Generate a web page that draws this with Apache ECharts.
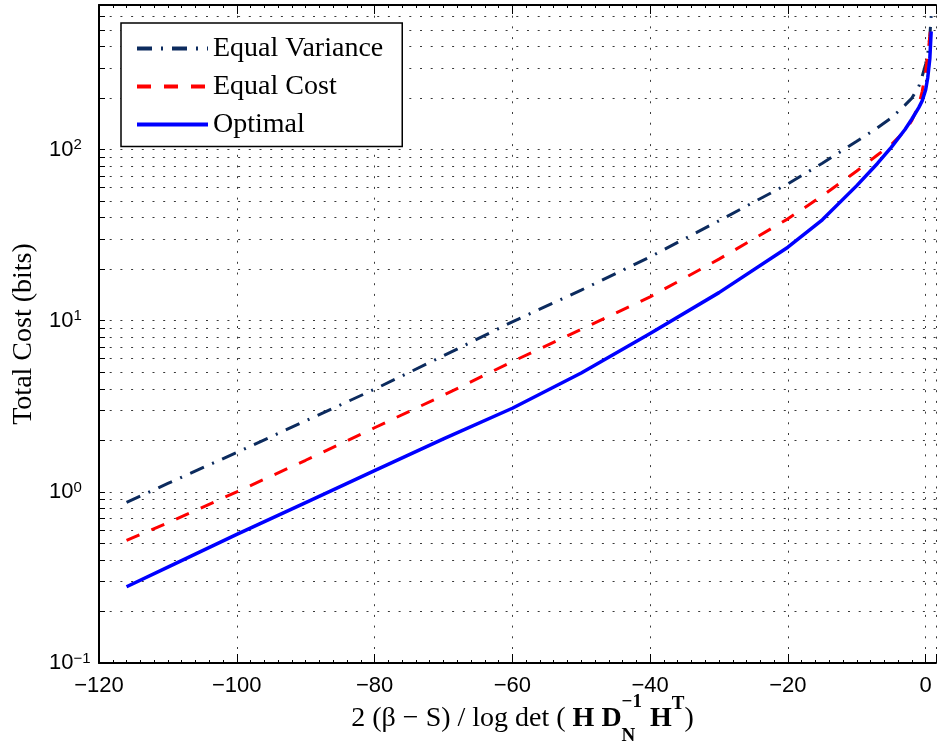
<!DOCTYPE html>
<html><head><meta charset="utf-8">
<script src="https://cdn.jsdelivr.net/npm/echarts@6/dist/echarts.min.js"></script>
<style>html,body{margin:0;padding:0;background:#fff}#c{width:939px;height:749px}</style>
</head><body><div id="c"></div>
<script>
// ---- data ----
const xValues       = [-116, -110, -100, -90, -80, -70, -60, -50, -40, -30, -20, -15, -10, -7, -5, -3, -2, -1, -0.5, 0, 0.3, 0.6, 0.8];
const equalVariance = [0.867, 1.12, 1.70, 2.60, 3.98, 6.24, 9.86, 15.1, 23.6, 38.4, 63.1, 83.2, 112, 134, 153, 182, 200, 234, 269, 316, 363, 457, 603];
const equalCost     = [0.52, 0.66, 1.0, 1.53, 2.37, 3.67, 5.77, 8.9, 13.8, 22.9, 39.4, 53.7, 75, 93, 107, 129, 148, 182, 219, 288, 355, 457, 550];
const optimal       = [0.279, 0.363, 0.564, 0.865, 1.33, 2.04, 3.08, 4.95, 8.43, 14.6, 26.9, 38.9, 61.6, 83, 103, 131, 151, 176, 193, 224, 263, 339, 490];
const seriesNames   = ['Equal Variance', 'Equal Cost', 'Optimal'];
const xTickValues   = [-120, -100, -80, -60, -40, -20, 0];
const yMajorTicks   = [0.1, 1, 10, 100];
const yMinorTicks   = [0.2,0.3,0.4,0.5,0.6,0.7,0.8,0.9, 2,3,4,5,6,7,8,9, 20,30,40,50,60,70,80,90, 200,300,400,500,600,700];

const xMin = -120, xMax = 1.5, xInterval = 20;
const yMin = 0.1, yMax = 700;

const serif = '"Liberation Serif","Times New Roman",serif';
const sans = '"Liberation Sans",Arial,sans-serif';

function pair(ys){ return xValues.map((x,i)=>[x, ys[i]]); }
const allYTicks = yMajorTicks.concat(yMinorTicks).sort((a,b)=>a-b);

const dotted = {type:[2, 8.7], color:'#3a3a3a', width:1};

const chart = echarts.init(document.getElementById('c'), null, {renderer:'canvas'});

// x-axis title pieces (stacked sub/superscript)
const cv = document.createElement('canvas').getContext('2d');
function mw(t, f){ cv.font = f; return cv.measureText(t).width; }
const fN = '28px ' + serif, fB = 'bold 28px ' + serif, fS = 'bold 19px ' + serif;
const baseY = 733;
const pieces = [
  {t:'2 (β − S) / log det ( ', f:fN, dy:0},
  {t:'H', f:fB, dy:0},
  {t:' ', f:fN, dy:0},
  {t:'D', f:fB, dy:0},
  {stack:[{t:'−1', f:fS, dy:-21},{t:'N', f:fS, dy:13}]},
  {t:' ', f:fN, dy:0},
  {t:'H', f:fB, dy:0},
  {t:'T', f:fS, dy:-19},
  {t:')', f:fN, dy:0}
];
let total = 0;
pieces.forEach(p=>{
  if (p.stack) p.w = Math.max(...p.stack.map(s=>mw(s.t,s.f))) + 1;
  else p.w = mw(p.t, p.f);
  total += p.w;
});
let cx = 522.5 - total/2;
const titleEls = [];
pieces.forEach(p=>{
  const parts = p.stack ? p.stack : [p];
  parts.forEach(s=>{
    titleEls.push({type:'text', x:cx, y:baseY + s.dy, silent:true,
      style:{text:s.t, font:s.f, fill:'#000', align:'left', verticalAlign:'bottom', textAlign:'left', textVerticalAlign:'bottom'}});
  });
  cx += p.w;
});

function fmtY(v){
  const e = Math.round(Math.log10(v));
  return '{b|10}{s|' + String(e).replace('-', '\u2212') + '}';
}

const option = {
  backgroundColor:'#fff',
  animation:false,
  grid:{left:99, right:-2, top:5, bottom:86},
  legend:{
    orient:'vertical', left:121, top:23,
    data:seriesNames,
    backgroundColor:'#fff', borderColor:'#000', borderWidth:1.5, borderRadius:0,
    padding:[11.5,19,8,14], itemGap:10, itemWidth:71, itemHeight:14,
    itemStyle:{color:'rgba(0,0,0,0)', borderColor:'rgba(0,0,0,0)', borderWidth:0, opacity:0},
    lineStyle:{width:4},
    textStyle:{fontFamily:serif, fontSize:28, color:'#000'}
  },
  xAxis:[{
    type:'value', min:xMin, max:xMax, interval:xInterval, position:'bottom',
    axisLine:{show:true, onZero:false, lineStyle:{color:'#000', width:2}},
    axisTick:{show:true, inside:true, length:9, lineStyle:{color:'#000', width:1}},
    minorTick:{show:true, splitNumber:10, length:3, lineStyle:{color:'#000', width:1}},
    axisLabel:{color:'#000', fontFamily:sans, fontSize:22, margin:12,
      formatter:v=> xTickValues.indexOf(v) >= 0 ? String(v).replace('-', '\u2212') : ''},
    splitLine:{show:true, lineStyle:dotted}
  },{
    type:'value', min:xMin, max:xMax, interval:xInterval, position:'top',
    axisLine:{show:true, onZero:false, lineStyle:{color:'#000', width:2}},
    axisTick:{show:true, inside:true, length:9, lineStyle:{color:'#000', width:1}},
    minorTick:{show:true, splitNumber:10, length:3, lineStyle:{color:'#000', width:1}},
    axisLabel:{show:false}, splitLine:{show:false}
  }],
  yAxis:[{
    type:'log', logBase:10, min:yMin, max:yMax, position:'left',
    name:'Total Cost (bits)', nameLocation:'middle', nameGap:61,
    nameTextStyle:{fontFamily:serif, fontSize:28, color:'#000'},
    axisLine:{show:true, onZero:false, lineStyle:{color:'#000', width:2}},
    axisTick:{show:true, inside:true, length:6, customValues:allYTicks, lineStyle:{color:'#000', width:1}},
    axisLabel:{show:true, customValues:yMajorTicks, margin:50, align:'left', formatter:fmtY,
      rich:{
        b:{fontFamily:sans, fontSize:22, color:'#000', lineHeight:24},
        s:{fontFamily:sans, fontSize:15, color:'#000', verticalAlign:'top', lineHeight:15}
      }},
    splitLine:{show:true, lineStyle:dotted}
  }],
  series:[{
    name:seriesNames[0], type:'line', data:pair(equalVariance), symbol:'none', showSymbol:false,
    smooth:false, z:3,
    lineStyle:{color:'#0c2b5e', width:3, type:[15,9,2,9], cap:'butt'},
    itemStyle:{color:'#0c2b5e'}
  },{
    name:seriesNames[1], type:'line', data:pair(equalCost), symbol:'none', showSymbol:false,
    smooth:false, z:4,
    lineStyle:{color:'#ff0000', width:3, type:[14,13], cap:'butt'},
    itemStyle:{color:'#ff0000'}
  },{
    name:seriesNames[2], type:'line', data:pair(optimal), symbol:'none', showSymbol:false,
    smooth:false, z:5,
    lineStyle:{color:'#0000ff', width:3.5, type:'solid', join:'round'},
    itemStyle:{color:'#0000ff'}
  }],
  graphic:{elements:titleEls}
};
chart.setOption(option);
</script>
</body></html>
